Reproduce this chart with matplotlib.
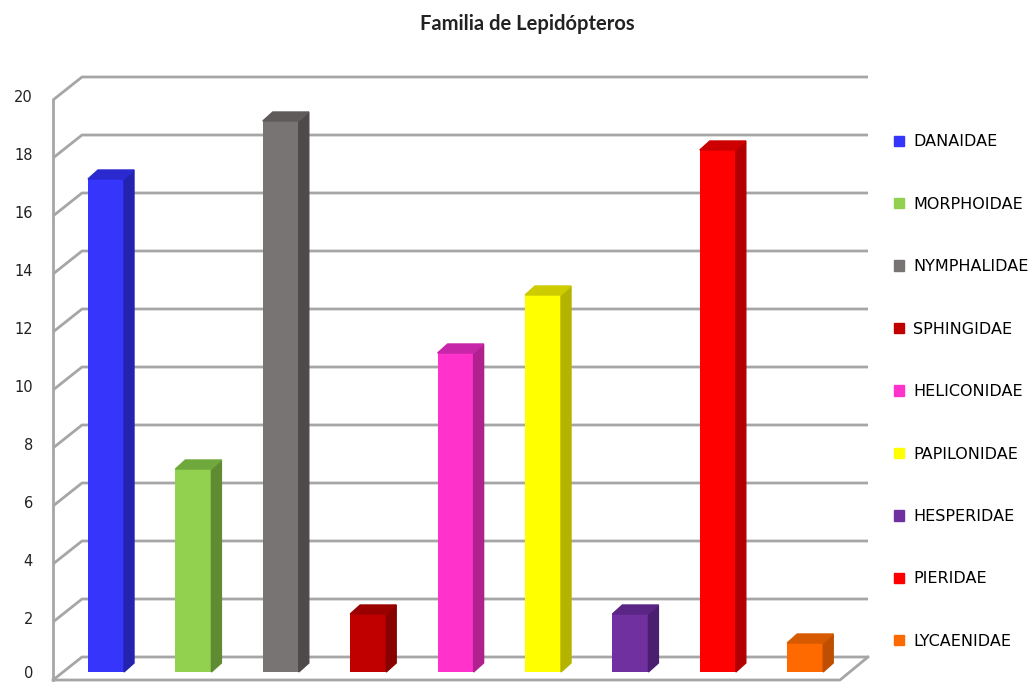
import matplotlib.pyplot as plt
from matplotlib.patches import Polygon, Patch

# datos
familias = ['DANAIDAE', 'MORPHOIDAE', 'NYMPHALIDAE', 'SPHINGIDAE', 'HELICONIDAE',
            'PAPILONIDAE', 'HESPERIDAE', 'PIERIDAE', 'LYCAENIDAE']
valores = [17, 7, 19, 2, 11, 13, 2, 18, 1]
colores = ['#3535fb', '#92d050', '#777473', '#c00000', '#ff33cc',
           '#ffff00', '#7030a0', '#ff0000', '#ff6a00']
lados = ['#2323b0', '#5f8c32', '#4d4a49', '#880000', '#b0208f',
         '#b4b400', '#4b1f70', '#b20000', '#c04e00']
techos = ['#2a2ad0', '#6fa83c', '#5e5b5a', '#9a0000', '#c826a8',
          '#cccc00', '#5a2585', '#cc0000', '#d85a00']
ticks = list(range(0, 21, 2))

W, H = 1034, 682
fig = plt.figure(figsize=(W / 100, H / 100), dpi=100)

# escala: 87.4 px por categoria, 29 px por unidad
px_x = 87.4
px_y = 29.0
x0_px, y0_px = 106, 672   # centro de la primera barra, base de las barras
left_px, right_px, top_px = 30, 900, 50
ax = fig.add_axes([left_px / W, 0, (right_px - left_px) / W, (H - top_px) / H])
ax.set_xlim((left_px - x0_px) / px_x, (right_px - x0_px) / px_x)
ax.set_ylim((y0_px - H) / px_y, (y0_px - top_px) / px_y)
ax.axis('off')

def dx(p):
    return p / px_x

def dy(p):
    return p / px_y

# plano frontal y trasero de las paredes
fx = (53 - x0_px) / px_x
bx = (82 - x0_px) / px_x
ex = (868 - x0_px) / px_x
f_off = dy(-8)
b_off = dy(15)
gris = '#a6a6a6'

for v in ticks:
    ax.plot([fx, bx, ex], [v + f_off, v + b_off, v + b_off],
            color=gris, lw=2, zorder=1, solid_capstyle='butt')
    # la etiqueta 0 queda dentro de la figura
    ty = max(v + f_off + dy(3), dy(-1))
    ax.text(fx - dx(20), ty, str(v), ha='right', va='center',
            fontsize=10.5, color='#222222')
ax.plot([fx, fx], [f_off, 20 + f_off], color=gris, lw=2, zorder=1)
# piso
fex = (840 - x0_px) / px_x
ax.plot([fx, fex, ex], [f_off, f_off, b_off], color=gris, lw=2, zorder=1)

# barras 3D
w = 36 / px_x
ddx, ddy = dx(10), dy(9)
for i, (v, c, s, t, nombre) in enumerate(zip(valores, colores, lados, techos, familias)):
    ax.bar(i, v, width=w, color=c, zorder=3, label=nombre)
    xr = i + w / 2
    xl = i - w / 2
    ax.add_patch(Polygon([(xr, 0), (xr + ddx, ddy), (xr + ddx, v + ddy), (xr, v)],
                         closed=True, color=s, zorder=3))
    ax.add_patch(Polygon([(xl, v), (xl + ddx, v + ddy), (xr + ddx, v + ddy), (xr, v)],
                         closed=True, color=t, zorder=3))

handles = [Patch(color=c, label=n) for c, n in zip(colores, familias)]
fig.legend(handles=handles, loc='upper left', bbox_to_anchor=(888 / W, 1 - 128 / H),
           frameon=False, fontsize=11.5, handlelength=0.62, handleheight=0.62,
           handletextpad=0.55, labelspacing=2.97, borderaxespad=0)

fig.text(527 / W, 1 - 24 / H, 'Familia de Lepidópteros', ha='center', va='center',
         fontsize=14.5, fontweight='bold', family='Lato', color='#222222')

fig.savefig('out.png', dpi=100)
